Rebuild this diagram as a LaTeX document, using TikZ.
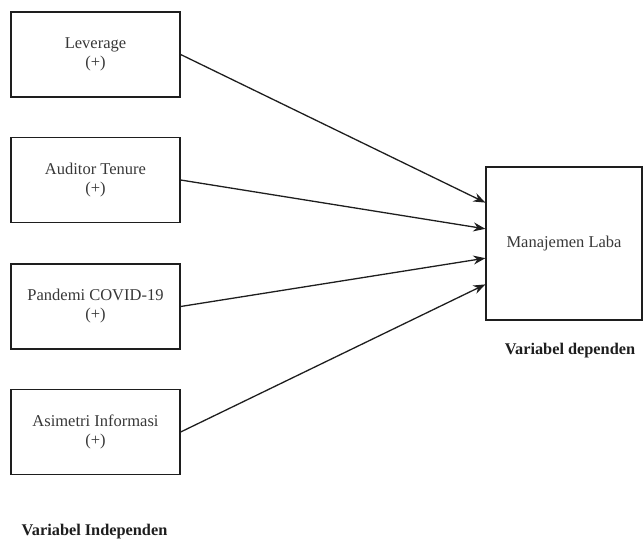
\documentclass[tikz,border=0pt]{standalone}
\usepackage{xcolor}
\usepackage{fontspec}
\setmainfont{Liberation Serif}
\usepackage{tikz}
\usetikzlibrary{arrows.meta, calc}
\definecolor{mydark}{RGB}{30,30,30}
\definecolor{mytext}{RGB}{55,55,55}
\tikzset{
  varbox/.style={rectangle, draw=mydark, line width=1.3pt,
    minimum width=169pt, minimum height=85pt, inner sep=0pt,
    align=center, text=mytext, font=\fontsize{16.5}{19}\selectfont},
  depbox/.style={rectangle, draw=mydark, line width=1.3pt,
    minimum width=156pt, minimum height=153pt, inner sep=0pt,
    align=center, text=mytext, font=\fontsize{16.5}{19}\selectfont},
  heading/.style={font=\bfseries\fontsize{16.3}{19}\selectfont, text=mydark},
  arrow/.style={-{Stealth[length=12pt, width=9pt]}, line width=1.3pt, color=mydark}
}

\begin{document}
\begin{tikzpicture}[x=1pt, y=-1pt]
  \useasboundingbox (0,0) rectangle (644,540);

  % Independent variables
  \node[varbox] (lev) at (95.5,54.5) {Leverage\\(+)};
  \node[varbox] (aud) at (95.5,180) {Auditor Tenure\\(+)};
  \node[varbox] (cov) at (95.5,306.5) {Pandemi COVID-19\\(+)};
  \node[varbox] (asi) at (95.5,432) {Asimetri Informasi\\(+)};
  \node[heading] (indep) at (94.5,532) {Variabel Independen};

  % Dependent variable
  \node[depbox] (laba) at (564,243.5) {Manajemen Laba};
  \node[heading] (dep) at (570,351) {Variabel dependen};

  % Arrows
  \draw[arrow] (lev.east) -- ($(laba.north west)!0.235!(laba.south west)$);
  \draw[arrow] (aud.east) -- ($(laba.north west)!0.405!(laba.south west)$);
  \draw[arrow] (cov.east) -- ($(laba.north west)!0.595!(laba.south west)$);
  \draw[arrow] (asi.east) -- ($(laba.north west)!0.765!(laba.south west)$);
\end{tikzpicture}
\end{document}
